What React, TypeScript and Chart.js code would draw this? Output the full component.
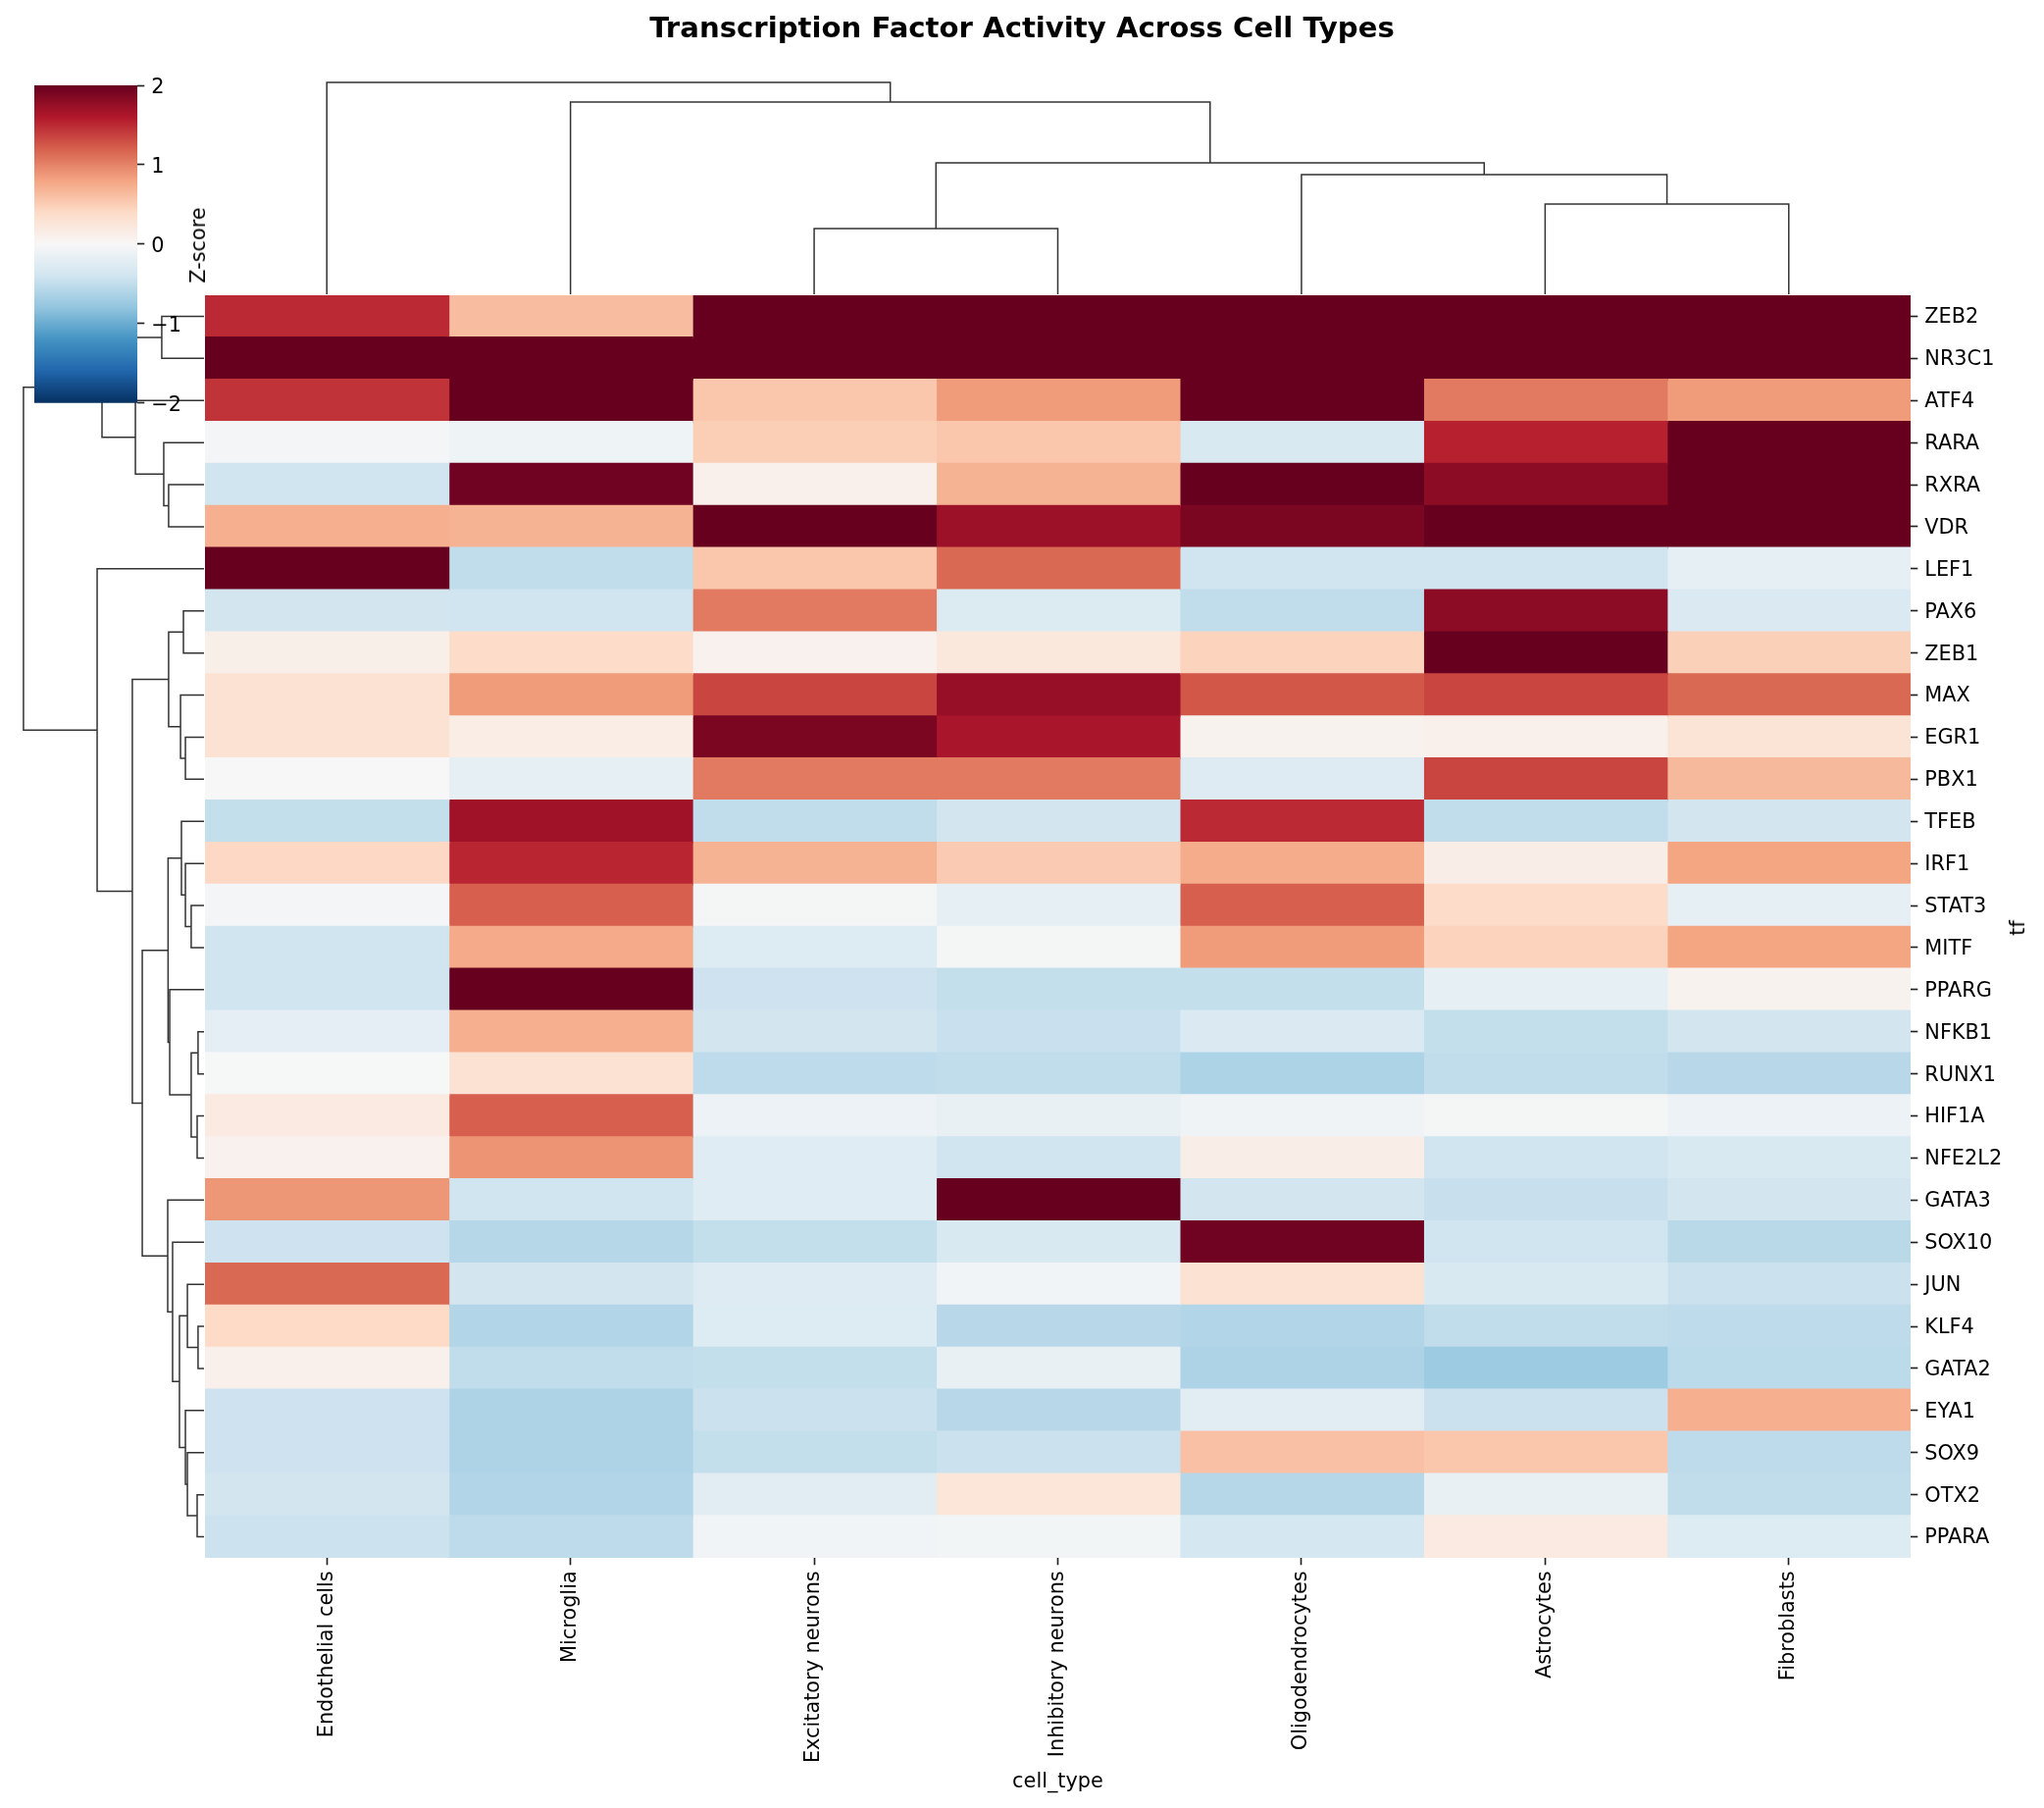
import { useEffect, useRef } from "react";
import { Chart, registerables } from "chart.js";

Chart.register(...registerables);

const cellTypes = [
  "Endothelial cells",
  "Microglia",
  "Excitatory neurons",
  "Inhibitory neurons",
  "Oligodendrocytes",
  "Astrocytes",
  "Fibroblasts",
];

const tfs = [
  "ZEB2", "NR3C1", "ATF4", "RARA", "RXRA", "VDR", "LEF1", "PAX6", "ZEB1", "MAX",
  "EGR1", "PBX1", "TFEB", "IRF1", "STAT3", "MITF", "PPARG", "NFKB1", "RUNX1", "HIF1A",
  "NFE2L2", "GATA3", "SOX10", "JUN", "KLF4", "GATA2", "EYA1", "SOX9", "OTX2", "PPARA",
];

// z-scores, one list per cell type, same order as tfs
const endothelial = [1.5, 2, 1.45, -0.04, -0.4, 0.72, 2, -0.38, 0.12, 0.3, 0.3, 0, -0.48, 0.42, -0.04, -0.4, -0.4, -0.2, -0.01, 0.18, 0.08, 0.88, -0.42, 1.15, 0.4, 0.1, -0.42, -0.42, -0.38, -0.43];
const microglia = [0.62, 2, 2, -0.1, 1.95, 0.7, -0.5, -0.4, 0.38, 0.85, 0.14, -0.18, 1.7, 1.52, 1.2, 0.76, 2, 0.72, 0.3, 1.2, 0.9, -0.4, -0.58, -0.38, -0.6, -0.5, -0.62, -0.62, -0.6, -0.53];
const excitatory = [2, 2, 0.55, 0.5, 0.1, 2, 0.55, 1.05, 0.08, 1.35, 1.9, 1.05, -0.5, 0.7, -0.03, -0.27, -0.42, -0.38, -0.52, -0.12, -0.24, -0.25, -0.48, -0.26, -0.27, -0.48, -0.44, -0.48, -0.22, -0.07];
const inhibitory = [2, 2, 0.85, 0.55, 0.7, 1.72, 1.15, -0.28, 0.22, 1.75, 1.65, 1.05, -0.38, 0.52, -0.18, -0.03, -0.48, -0.45, -0.5, -0.15, -0.4, 2, -0.32, -0.07, -0.56, -0.15, -0.56, -0.44, 0.25, -0.05];
const oligodendrocytes = [2, 2, 2, -0.32, 2, 1.9, -0.4, -0.5, 0.45, 1.25, 0.07, -0.26, 1.5, 0.75, 1.2, 0.85, -0.48, -0.3, -0.63, -0.08, 0.13, -0.38, 1.95, 0.3, -0.6, -0.62, -0.22, 0.6, -0.57, -0.36];
const astrocytes = [2, 2, 1.05, 1.55, 1.8, 2, -0.4, 1.8, 2, 1.35, 0.1, 1.35, -0.5, 0.13, 0.38, 0.45, -0.18, -0.48, -0.5, -0.03, -0.4, -0.46, -0.4, -0.32, -0.5, -0.73, -0.44, 0.55, -0.15, 0.18];
const fibroblasts = [2, 2, 0.85, 2, 2, 2, -0.18, -0.3, 0.48, 1.15, 0.28, 0.65, -0.38, 0.8, -0.18, 0.8, 0.07, -0.38, -0.56, -0.12, -0.32, -0.38, -0.55, -0.44, -0.52, -0.54, 0.72, -0.52, -0.5, -0.27];
const cellValues = [endothelial, microglia, excitatory, inhibitory, oligodendrocytes, astrocytes, fibroblasts];

// linkage tables: [child a, child b, distance], a child >= leaf count points at an earlier row
const rowLinkage = [
  [0, 1, 2.34], [4, 5, 1.96], [3, 31, 2.23], [2, 32, 3.8], [30, 33, 5.65],
  [10, 11, 1.03], [9, 35, 1.3], [7, 8, 1.14], [37, 36, 1.96],
  [14, 15, 0.71], [13, 39, 1.03], [12, 40, 1.25], [17, 18, 0.33], [19, 20, 0.38],
  [42, 43, 0.71], [16, 44, 1.9], [41, 45, 1.99],
  [24, 25, 0.33], [23, 47, 0.92], [28, 29, 0.38], [27, 49, 0.92], [26, 50, 1.03],
  [48, 51, 1.36], [22, 52, 1.74], [21, 53, 2.01], [46, 54, 3.42],
  [38, 55, 3.97], [6, 56, 5.92], [34, 57, 10],
];
const colLinkage = [
  [2, 3, 3.1], [5, 6, 4.26], [4, 8, 5.65], [7, 9, 6.2], [1, 10, 9.07], [0, 11, 10],
];

const rdbuStops = ["#053061", "#2166ac", "#4393c3", "#92c5de", "#d1e5f0", "#f7f7f7", "#fddbc7", "#f4a582", "#d6604d", "#b2182b", "#67001f"];

const FONT = "'DejaVu Sans'";
const TICK_SIZE = 20.83;
const INK = "#000";
const TREE = "#333";

function hexRgb(hex: string) {
  return [1, 3, 5].map((i) => parseInt(hex.slice(i, i + 2), 16));
}

// same as RdBu_r clipped to -2..2
function zColor(v: number) {
  const t = (Math.max(-2, Math.min(2, v)) + 2) / 4;
  const pos = t * (rdbuStops.length - 1);
  const i = Math.min(Math.floor(pos), rdbuStops.length - 2);
  const f = pos - i;
  const a = hexRgb(rdbuStops[i]);
  const b = hexRgb(rdbuStops[i + 1]);
  const c = a.map((n, k) => Math.round(n + (b[k] - n) * f));
  return `rgb(${c[0]},${c[1]},${c[2]})`;
}

// one U shaped path per merge, in (position along leaves, distance)
function linkPaths(leafCount: number, linkage: number[][]) {
  const nodes: { pos: number; h: number }[] = [];
  for (let i = 0; i < leafCount; i++) nodes.push({ pos: i + 0.5, h: 0 });
  return linkage.map(([a, b, h]) => {
    const na = nodes[a];
    const nb = nodes[b];
    nodes.push({ pos: (na.pos + nb.pos) / 2, h });
    return [
      [na.pos, na.h],
      [na.pos, h],
      [nb.pos, h],
      [nb.pos, nb.h],
    ];
  });
}

function useChart(make: (ctx: HTMLCanvasElement) => Chart) {
  const ref = useRef<HTMLCanvasElement | null>(null);
  useEffect(() => {
    if (!ref.current) return;
    const chart = make(ref.current);
    return () => chart.destroy();
  }, []);
  return ref;
}

const hiddenAxis = (min: number, max: number, reverse = false) => ({
  type: "linear" as const,
  display: false,
  min,
  max,
  reverse,
});

const treeOptions = (x: object, y: object) => ({
  responsive: false,
  animation: false as const,
  devicePixelRatio: 1,
  layout: { padding: 0 },
  plugins: { legend: { display: false }, tooltip: { enabled: false } },
  scales: { x, y },
});

const treeDataset = (points: { x: number; y: number }[]) => ({
  data: points,
  showLine: true,
  borderColor: TREE,
  borderWidth: 1.5,
  pointRadius: 0,
  tension: 0,
  clip: false as const,
});

const axisTicks = {
  drawOnChartArea: false,
  drawTicks: true,
  tickLength: 7.3,
  tickWidth: 1.67,
  tickColor: "#222",
  offset: false,
};

function Heatmap() {
  const ref = useChart(
    (el) =>
      new Chart(el, {
        type: "bar",
        data: {
          labels: tfs,
          datasets: cellTypes.map((name, c) => ({
            label: name,
            data: tfs.map(() => [c, c + 1]),
            backgroundColor: cellValues[c].map(zColor),
            xAxisID: "x",
            yAxisID: "y",
          })) as any,
        },
        options: {
          responsive: false,
          animation: false,
          devicePixelRatio: 1,
          indexAxis: "y",
          datasets: { bar: { grouped: false, barPercentage: 1, categoryPercentage: 1, borderWidth: 0, inflateAmount: 0.8 } },
          plugins: {
            legend: { display: false },
            tooltip: { enabled: false },
            title: {
              display: true,
              text: "Transcription Factor Activity Across Cell Types",
              color: INK,
              font: { family: FONT, size: 29.17, weight: "bold" },
              padding: { top: 13, bottom: 253 },
            },
          },
          scales: {
            x: hiddenAxis(0, 7),
            y: {
              type: "category",
              position: "right",
              offset: true,
              grid: axisTicks,
              border: { display: false },
              ticks: { color: INK, padding: 7, labelOffset: 1.5, autoSkip: false, font: { family: FONT, size: TICK_SIZE } },
              afterFit: (s: any) => {
                s.width = 136;
              },
            },
            // empty axis, holds the room on the left for the row tree and colour bar
            spacer: {
              type: "linear",
              axis: "y",
              position: "left",
              grid: { display: false },
              border: { display: false },
              ticks: { display: false },
              afterFit: (s: any) => {
                s.width = 209;
              },
            },
            cols: {
              type: "category",
              axis: "x",
              position: "bottom",
              labels: cellTypes,
              offset: true,
              grid: axisTicks,
              border: { display: false },
              ticks: { color: INK, padding: 6, autoSkip: false, minRotation: 90, maxRotation: 90, font: { family: FONT, size: TICK_SIZE } },
              title: {
                display: true,
                text: "cell_type",
                color: INK,
                font: { family: FONT, size: TICK_SIZE },
                padding: { top: 0, bottom: 14 },
              },
              afterFit: (s: any) => {
                s.height = 255;
              },
            },
          } as any,
        },
      })
  );
  return <canvas ref={ref} width={2084} height={1843} style={{ position: "absolute", left: 0, top: 0 }} />;
}

function RowTree() {
  const ref = useChart(
    (el) =>
      new Chart(el, {
        type: "scatter",
        data: {
          datasets: linkPaths(tfs.length, rowLinkage).map((path) =>
            treeDataset(path.map(([pos, h]) => ({ x: h, y: pos })))
          ),
        },
        options: treeOptions(hiddenAxis(0, 11.3, true), hiddenAxis(0, 30, true)) as any,
      })
  );
  return <canvas ref={ref} width={208} height={1287} style={{ position: "absolute", left: 0, top: 301 }} />;
}

function ColTree() {
  const ref = useChart(
    (el) =>
      new Chart(el, {
        type: "scatter",
        data: {
          datasets: linkPaths(cellTypes.length, colLinkage).map((path) =>
            treeDataset(path.map(([pos, h]) => ({ x: pos, y: h })))
          ),
        },
        options: treeOptions(hiddenAxis(0, 7), hiddenAxis(0, 11.11)) as any,
      })
  );
  return <canvas ref={ref} width={1739} height={240} style={{ position: "absolute", left: 209, top: 60 }} />;
}

function ColorBar() {
  const ref = useChart(
    (el) =>
      new Chart(el, {
        type: "bar",
        data: {
          labels: ["Z-score"],
          datasets: [
            {
              data: [[-2, 2]],
              barPercentage: 1,
              categoryPercentage: 1,
              borderWidth: 0,
              backgroundColor: (c: any) => {
                const area = c.chart.chartArea;
                if (!area) return rdbuStops[5];
                const g = c.chart.ctx.createLinearGradient(0, area.bottom, 0, area.top);
                rdbuStops.forEach((hex, i) => g.addColorStop(i / (rdbuStops.length - 1), hex));
                return g;
              },
            },
          ] as any,
        },
        options: {
          responsive: false,
          animation: false,
          devicePixelRatio: 1,
          layout: { padding: { top: 12, bottom: 14.3 } },
          plugins: { legend: { display: false }, tooltip: { enabled: false } },
          scales: {
            x: { display: false },
            y: {
              position: "right",
              min: -2,
              max: 2,
              grid: axisTicks,
              border: { display: false },
              ticks: {
                stepSize: 1,
                color: INK,
                padding: 7,
                labelOffset: 3,
                font: { family: FONT, size: TICK_SIZE },
                callback: (v: any) => String(v).replace("-", "\u2212"),
              },
              afterFit: (s: any) => {
                s.width = 55;
                s.paddingTop = 0;
                s.paddingBottom = 0;
              },
            },
          },
        },
      })
  );
  return <canvas ref={ref} width={160} height={350} style={{ position: "absolute", left: 35, top: 75 }} />;
}

const sideLabel = (cx: number, cy: number) => ({
  position: "absolute" as const,
  left: cx,
  top: cy,
  transform: "translate(-50%, -50%) rotate(-90deg)",
  font: `${TICK_SIZE}px ${FONT}`,
  color: INK,
  whiteSpace: "nowrap" as const,
});

export default function App() {
  return (
    <div style={{ position: "absolute", left: 0, top: 0, width: 2084, height: 1843, background: "#fff", overflow: "hidden" }}>
      <Heatmap />
      <RowTree />
      <ColTree />
      <ColorBar />
      <div style={sideLabel(202, 250)}>Z-score</div>
      <div style={sideLabel(2057, 946)}>tf</div>
    </div>
  );
}
